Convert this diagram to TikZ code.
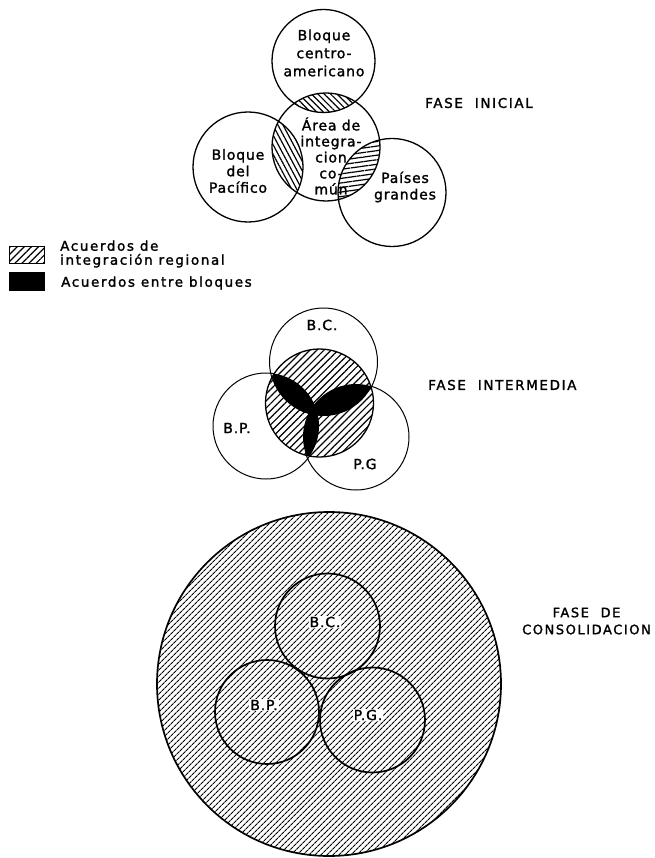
\documentclass[tikz,border=0pt]{standalone}
\usepackage{fontspec}
\setmainfont{DejaVu Sans}[LetterSpace=6,FakeBold=1.6]
\newfontfamily\widelettering{DejaVu Sans}[LetterSpace=12,FakeBold=1.6]
\usetikzlibrary{patterns.meta}
\tikzset{
  ring/.style={draw=black,line width=1.3pt},
  thinring/.style={draw=black,line width=1pt},
  heavyring/.style={draw=black,line width=1.7pt},
  hatchnw/.style={pattern={Lines[angle=-45,distance=4.5pt,line width=1.2pt]}},
  hatchsteep/.style={pattern={Lines[angle=-62,distance=4.5pt,line width=1.2pt]}},
  hatchflat/.style={pattern={Lines[angle=8,distance=4.5pt,line width=1.2pt]}},
  hatchne/.style={pattern={Lines[angle=45,distance=5pt,line width=1.2pt]}},
  hatchdense/.style={pattern={Lines[angle=45,distance=4pt,line width=1.1pt]}},
  lbl/.style={align=center,inner sep=0pt,font=\fontsize{14}{16.5}\selectfont},
  abbr/.style={inner sep=1pt,font=\fontsize{14}{16}\selectfont},
  phase/.style={anchor=west,inner sep=0pt,font=\widelettering\fontsize{13.5}{17}\selectfont},
  legend/.style={anchor=west,inner sep=0pt,align=left,font=\widelettering\fontsize{13.5}{14}\selectfont},
}
\begin{document}
\begin{tikzpicture}[x=1pt,y=-1pt]
  \useasboundingbox (0,0) rectangle (654,858);
  % fase inicial
  \coordinate (bc1) at (323.5,61);
  \coordinate (ac1) at (326,147);
  \coordinate (bp1) at (248,167);
  \coordinate (pg1) at (392,192.5);
  \begin{scope}
    \clip (ac1) circle (54);
    \fill[hatchnw] (bc1) circle (51.5);
    \fill[hatchsteep] (bp1) circle (55);
    \fill[hatchflat] (pg1) circle (54);
  \end{scope}
  \draw[ring] (bc1) circle (51.5);
  \draw[ring] (ac1) circle (54);
  \draw[ring] (bp1) circle (55);
  \draw[ring] (pg1) circle (54);
  \node[lbl,font=\fontsize{14}{18}\selectfont] (t-bc1) at (324,53) {Bloque\\centro-\\americano};
  \node[lbl,font=\fontsize{14}{16}\selectfont] (t-ac1) at (331,156) {Área de\\integra-\\cion\\co-\\mún};
  \node[lbl] (t-bp1) at (238,171) {Bloque\\del\\Pacífico};
  \node[lbl] (t-pg1) at (405,187) {Países\\grandes};
  \node[phase] (f-ini) at (425,103) {FASE\hspace{6pt} INICIAL};
  % leyenda
  \node[rectangle,draw,line width=1.2pt,hatchne,minimum width=35pt,minimum height=17pt,inner sep=0pt] (key-h) at (27,255) {};
  \fill[black] (9,272.5) rectangle (45,290.5);
  \node[legend] (key-ht) at (60,254) {Acuerdos de\\integración regional};
  \node[legend] (key-bt) at (61,283) {Acuerdos entre bloques};
  % fase intermedia
  \coordinate (bc2) at (323.5,362);
  \coordinate (ac2) at (319.5,403);
  \coordinate (bp2) at (266,426);
  \coordinate (pg2) at (356,437);
  \draw[thinring] (bc2) circle (54);
  \draw[thinring] (bp2) circle (53);
  \draw[thinring] (pg2) circle (53);
  \fill[white] (ac2) circle (54);
  \fill[hatchne] (ac2) circle (54);
  \begin{scope}
    \clip (ac2) circle (54);
    \begin{scope}
      \clip (bc2) circle (54);
      \fill (bp2) circle (53);
      \fill (pg2) circle (53);
    \end{scope}
    \begin{scope}
      \clip (bp2) circle (53);
      \fill (pg2) circle (53);
    \end{scope}
  \end{scope}
  \draw[ring] (ac2) circle (54);
  \node[abbr] (t-bc2) at (322,325) {B.C.};
  \node[abbr] (t-bp2) at (237,428) {B.P.};
  \node[abbr] (t-pg2) at (365,464) {P.G};
  \node[phase] (f-int) at (428,385) {FASE\hspace{6pt} INTERMEDIA};
  % fase de consolidacion
  \coordinate (big) at (329,684);
  \coordinate (bc3) at (327.5,626);
  \coordinate (bp3) at (267,712);
  \coordinate (pg3) at (372.5,720);
  \fill[hatchdense] (big) circle (172);
  \draw[heavyring] (big) circle (172);
  \draw[heavyring] (bc3) circle (52.5);
  \draw[heavyring] (bp3) circle (52);
  \draw[heavyring] (pg3) circle (52.5);
  \node[abbr,fill=white] (t-bc3) at (325,622) {B.C.};
  \node[abbr,fill=white] (t-bp3) at (264,705) {B.P.};
  \node[abbr,fill=white] (t-pg3) at (368,715) {P.G.};
  \node[phase,align=center,anchor=east,font=\widelettering\fontsize{13}{17}\selectfont] (f-con) at (651,621) {FASE\hspace{6pt} DE\\CONSOLIDACION};
\end{tikzpicture}
\end{document}
